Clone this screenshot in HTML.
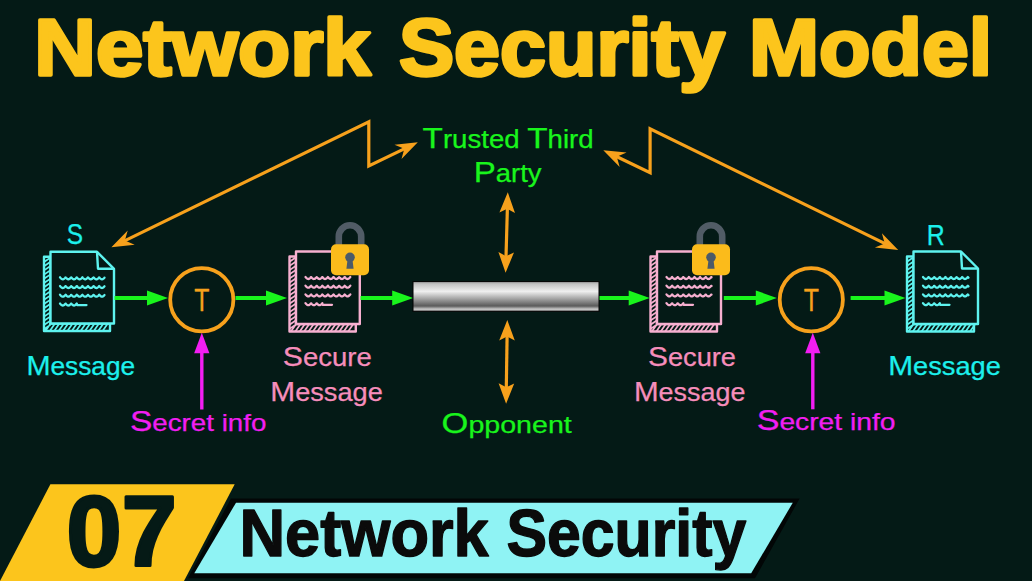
<!DOCTYPE html>
<html><head><meta charset="utf-8"><style>
html,body{margin:0;padding:0;background:#041a16;width:1032px;height:581px;overflow:hidden}
svg{display:block;font-family:"Liberation Sans", sans-serif}
</style></head><body>
<svg width="1032" height="581" viewBox="0 0 1032 581">
<rect width="1032" height="581" fill="#041a16"/>
<text x="34.29999999999999" y="75.3" font-size="79" fill="#fcc51c" font-weight="bold" text-anchor="start" textLength="336.49999999999994" lengthAdjust="spacingAndGlyphs" stroke="#fcc51c" stroke-width="3.4" stroke-linejoin="round">Network</text>
<text x="399.0" y="75.3" font-size="79" fill="#fcc51c" font-weight="bold" text-anchor="start" textLength="326.0" lengthAdjust="spacingAndGlyphs" stroke="#fcc51c" stroke-width="3.4" stroke-linejoin="round">Security</text>
<text x="749.0000000000001" y="75.3" font-size="79" fill="#fcc51c" font-weight="bold" text-anchor="start" textLength="243.0999999999999" lengthAdjust="spacingAndGlyphs" stroke="#fcc51c" stroke-width="3.4" stroke-linejoin="round">Model</text>
<path d="M124.0,241.1 L368.8,121.8 L368.8,166.0 L405.2,148.4" fill="none" stroke="#f7a11c" stroke-width="3.2" stroke-linejoin="miter" stroke-miterlimit="10"/>
<path d="M417.8,142.3 L401.5,159.1 L404.3,148.8 L394.5,144.7 Z" fill="#f7a11c"/>
<path d="M111.4,247.2 L127.7,230.4 L124.9,240.6 L134.7,244.8 Z" fill="#f7a11c"/>
<path d="M615.9,156.2 L650.1,172.6 L650.1,128.8 L885.6,243.9" fill="none" stroke="#f7a11c" stroke-width="3.2" stroke-linejoin="miter" stroke-miterlimit="10"/>
<path d="M898.2,250.0 L874.9,247.5 L884.7,243.4 L881.9,233.2 Z" fill="#f7a11c"/>
<path d="M603.3,150.2 L626.6,152.5 L616.8,156.7 L619.7,166.9 Z" fill="#f7a11c"/>
<path d="M507.4,207.8 L506.0,257.2" fill="none" stroke="#f7a11c" stroke-width="3.2" stroke-linejoin="miter" stroke-miterlimit="10"/>
<path d="M505.6,272.7 L498.4,252.0 L506.1,256.2 L514.0,252.4 Z" fill="#f7a11c"/>
<path d="M507.8,192.3 L515.0,213.0 L507.3,208.8 L499.4,212.6 Z" fill="#f7a11c"/>
<path d="M507.1,335.5 L506.3,388.3" fill="none" stroke="#f7a11c" stroke-width="3.2" stroke-linejoin="miter" stroke-miterlimit="10"/>
<path d="M506.1,403.8 L498.6,383.2 L506.3,387.3 L514.2,383.4 Z" fill="#f7a11c"/>
<path d="M507.3,320.0 L514.8,340.6 L507.1,336.5 L499.2,340.4 Z" fill="#f7a11c"/>
<path d="M50.5,256.8 L44.0,256.8 L44.0,331.0 L110,331.0 L110,323.5 L50.5,323.5 Z" fill="#041a16" stroke="#5ef3ef" stroke-width="2.4" stroke-linejoin="round"/>
<path d="M44.0,262.0 L50.5,257.6 M44.0,266.2 L50.5,261.8 M44.0,270.4 L50.5,266.0 M44.0,274.6 L50.5,270.2 M44.0,278.8 L50.5,274.4 M44.0,283.0 L50.5,278.6 M44.0,287.2 L50.5,282.8 M44.0,291.4 L50.5,287.0 M44.0,295.6 L50.5,291.2 M44.0,299.8 L50.5,295.4 M44.0,304.0 L50.5,299.6 M44.0,308.2 L50.5,303.8 M44.0,312.4 L50.5,308.0 M44.0,316.6 L50.5,312.2 M44.0,320.8 L50.5,316.4 M44.0,325.0 L50.5,320.6 M44.0,329.2 L50.5,324.8 M45.4,331.0 L50.6,323.5 M49.8,331.0 L55.0,323.5 M54.2,331.0 L59.4,323.5 M58.6,331.0 L63.8,323.5 M63.0,331.0 L68.2,323.5 M67.4,331.0 L72.6,323.5 M71.8,331.0 L77.0,323.5 M76.2,331.0 L81.4,323.5 M80.6,331.0 L85.8,323.5 M85.0,331.0 L90.2,323.5 M89.4,331.0 L94.6,323.5 M93.8,331.0 L99.0,323.5 M98.2,331.0 L103.4,323.5 M102.6,331.0 L107.8,323.5" stroke="#5ef3ef" stroke-width="1.7" fill="none"/>
<path d="M50.5,251.8 L97,251.8 L114,268.8 L114,323.5 L50.5,323.5 Z" fill="#041a16" stroke="#5ef3ef" stroke-width="2.4" stroke-linejoin="round"/>
<path d="M97,251.8 L98,268.8 L114,268.8" fill="none" stroke="#5ef3ef" stroke-width="2.4" stroke-linejoin="round"/>
<path d="M60.00,277.30 L60.33,277.67 L60.67,278.03 L61.00,278.37 L61.34,278.66 L61.67,278.91 L62.01,279.11 L62.34,279.23 L62.68,279.30 L63.01,279.29 L63.35,279.21 L63.68,279.06 L64.02,278.85 L64.35,278.59 L64.68,278.28 L65.02,277.94 L65.35,277.58 L65.69,277.40 L66.02,277.77 L66.36,278.12 L66.69,278.45 L67.03,278.73 L67.36,278.97 L67.70,279.15 L68.03,279.26 L68.36,279.30 L68.70,279.27 L69.03,279.17 L69.37,279.01 L69.70,278.79 L70.04,278.51 L70.37,278.20 L70.71,277.85 L71.04,277.48 L71.38,277.50 L71.71,277.87 L72.05,278.21 L72.38,278.53 L72.71,278.80 L73.05,279.02 L73.38,279.18 L73.72,279.28 L74.05,279.30 L74.39,279.25 L74.72,279.14 L75.06,278.96 L75.39,278.72 L75.73,278.43 L76.06,278.11 L76.39,277.75 L76.73,277.38 L77.06,277.60 L77.40,277.96 L77.73,278.30 L78.07,278.61 L78.40,278.87 L78.74,279.07 L79.07,279.21 L79.41,279.29 L79.74,279.29 L80.08,279.23 L80.41,279.10 L80.74,278.90 L81.08,278.65 L81.41,278.35 L81.75,278.02 L82.08,277.65 L82.42,277.32 L82.75,277.69 L83.09,278.05 L83.42,278.38 L83.76,278.68 L84.09,278.92 L84.42,279.11 L84.76,279.24 L85.09,279.30 L85.43,279.28 L85.76,279.20 L86.10,279.05 L86.43,278.84 L86.77,278.58 L87.10,278.27 L87.44,277.92 L87.77,277.56 L88.11,277.42 L88.44,277.79 L88.77,278.14 L89.11,278.47 L89.44,278.75 L89.78,278.98 L90.11,279.15 L90.45,279.26 L90.78,279.30 L91.12,279.27 L91.45,279.17 L91.79,279.00 L92.12,278.78 L92.45,278.50 L92.79,278.18 L93.12,277.83 L93.46,277.46 L93.79,277.52 L94.13,277.88 L94.46,278.23 L94.80,278.54 L95.13,278.81 L95.47,279.03 L95.80,279.19 L96.14,279.28 L96.47,279.30 L96.80,279.25 L97.14,279.13 L97.47,278.95 L97.81,278.71 L98.14,278.42 L98.48,278.09 L98.81,277.73 L99.15,277.36 L99.48,277.61 L99.82,277.98 L100.15,278.32 L100.48,278.62 L100.82,278.88 L101.15,279.08 L101.49,279.22 L101.82,279.29 L102.16,279.29 L102.49,279.22 L102.83,279.09 L103.16,278.89 L103.50,278.64 L103.83,278.33 L104.17,278.00 L104.50,277.64" fill="none" stroke="#5ef3ef" stroke-width="2.3" stroke-linecap="round" stroke-linejoin="round"/>
<path d="M60.00,286.00 L60.33,286.37 L60.67,286.73 L61.00,287.07 L61.34,287.36 L61.67,287.61 L62.01,287.81 L62.34,287.93 L62.68,288.00 L63.01,287.99 L63.35,287.91 L63.68,287.76 L64.02,287.55 L64.35,287.29 L64.68,286.98 L65.02,286.64 L65.35,286.28 L65.69,286.10 L66.02,286.47 L66.36,286.82 L66.69,287.15 L67.03,287.43 L67.36,287.67 L67.70,287.85 L68.03,287.96 L68.36,288.00 L68.70,287.97 L69.03,287.87 L69.37,287.71 L69.70,287.49 L70.04,287.21 L70.37,286.90 L70.71,286.55 L71.04,286.18 L71.38,286.20 L71.71,286.57 L72.05,286.91 L72.38,287.23 L72.71,287.50 L73.05,287.72 L73.38,287.88 L73.72,287.98 L74.05,288.00 L74.39,287.95 L74.72,287.84 L75.06,287.66 L75.39,287.42 L75.73,287.13 L76.06,286.81 L76.39,286.45 L76.73,286.08 L77.06,286.30 L77.40,286.66 L77.73,287.00 L78.07,287.31 L78.40,287.57 L78.74,287.77 L79.07,287.91 L79.41,287.99 L79.74,287.99 L80.08,287.93 L80.41,287.80 L80.74,287.60 L81.08,287.35 L81.41,287.05 L81.75,286.72 L82.08,286.35 L82.42,286.02 L82.75,286.39 L83.09,286.75 L83.42,287.08 L83.76,287.38 L84.09,287.62 L84.42,287.81 L84.76,287.94 L85.09,288.00 L85.43,287.98 L85.76,287.90 L86.10,287.75 L86.43,287.54 L86.77,287.28 L87.10,286.97 L87.44,286.62 L87.77,286.26 L88.11,286.12 L88.44,286.49 L88.77,286.84 L89.11,287.17 L89.44,287.45 L89.78,287.68 L90.11,287.85 L90.45,287.96 L90.78,288.00 L91.12,287.97 L91.45,287.87 L91.79,287.70 L92.12,287.48 L92.45,287.20 L92.79,286.88 L93.12,286.53 L93.46,286.16 L93.79,286.22 L94.13,286.58 L94.46,286.93 L94.80,287.24 L95.13,287.51 L95.47,287.73 L95.80,287.89 L96.14,287.98 L96.47,288.00 L96.80,287.95 L97.14,287.83 L97.47,287.65 L97.81,287.41 L98.14,287.12 L98.48,286.79 L98.81,286.43 L99.15,286.06 L99.48,286.31 L99.82,286.68 L100.15,287.02 L100.48,287.32 L100.82,287.58 L101.15,287.78 L101.49,287.92 L101.82,287.99 L102.16,287.99 L102.49,287.92 L102.83,287.79 L103.16,287.59 L103.50,287.34 L103.83,287.03 L104.17,286.70 L104.50,286.34" fill="none" stroke="#5ef3ef" stroke-width="2.3" stroke-linecap="round" stroke-linejoin="round"/>
<path d="M60.00,294.70 L60.33,295.07 L60.67,295.43 L61.00,295.77 L61.34,296.06 L61.67,296.31 L62.01,296.51 L62.34,296.63 L62.68,296.70 L63.01,296.69 L63.35,296.61 L63.68,296.46 L64.02,296.25 L64.35,295.99 L64.68,295.68 L65.02,295.34 L65.35,294.98 L65.69,294.80 L66.02,295.17 L66.36,295.52 L66.69,295.85 L67.03,296.13 L67.36,296.37 L67.70,296.55 L68.03,296.66 L68.36,296.70 L68.70,296.67 L69.03,296.57 L69.37,296.41 L69.70,296.19 L70.04,295.91 L70.37,295.60 L70.71,295.25 L71.04,294.88 L71.38,294.90 L71.71,295.27 L72.05,295.61 L72.38,295.93 L72.71,296.20 L73.05,296.42 L73.38,296.58 L73.72,296.68 L74.05,296.70 L74.39,296.65 L74.72,296.54 L75.06,296.36 L75.39,296.12 L75.73,295.83 L76.06,295.51 L76.39,295.15 L76.73,294.78 L77.06,295.00 L77.40,295.36 L77.73,295.70 L78.07,296.01 L78.40,296.27 L78.74,296.47 L79.07,296.61 L79.41,296.69 L79.74,296.69 L80.08,296.63 L80.41,296.50 L80.74,296.30 L81.08,296.05 L81.41,295.75 L81.75,295.42 L82.08,295.05 L82.42,294.72 L82.75,295.09 L83.09,295.45 L83.42,295.78 L83.76,296.08 L84.09,296.32 L84.42,296.51 L84.76,296.64 L85.09,296.70 L85.43,296.68 L85.76,296.60 L86.10,296.45 L86.43,296.24 L86.77,295.98 L87.10,295.67 L87.44,295.32 L87.77,294.96 L88.11,294.82 L88.44,295.19 L88.77,295.54 L89.11,295.87 L89.44,296.15 L89.78,296.38 L90.11,296.55 L90.45,296.66 L90.78,296.70 L91.12,296.67 L91.45,296.57 L91.79,296.40 L92.12,296.18 L92.45,295.90 L92.79,295.58 L93.12,295.23 L93.46,294.86 L93.79,294.92 L94.13,295.28 L94.46,295.63 L94.80,295.94 L95.13,296.21 L95.47,296.43 L95.80,296.59 L96.14,296.68 L96.47,296.70 L96.80,296.65 L97.14,296.53 L97.47,296.35 L97.81,296.11 L98.14,295.82 L98.48,295.49 L98.81,295.13 L99.15,294.76 L99.48,295.01 L99.82,295.38 L100.15,295.72 L100.48,296.02 L100.82,296.28 L101.15,296.48 L101.49,296.62 L101.82,296.69 L102.16,296.69 L102.49,296.62 L102.83,296.49 L103.16,296.29 L103.50,296.04 L103.83,295.73 L104.17,295.40 L104.50,295.04" fill="none" stroke="#5ef3ef" stroke-width="2.3" stroke-linecap="round" stroke-linejoin="round"/>
<path d="M60.00,303.50 L60.34,303.87 L60.67,304.24 L61.01,304.57 L61.34,304.87 L61.68,305.12 L62.01,305.31 L62.35,305.44 L62.68,305.50 L63.02,305.48 L63.35,305.40 L63.69,305.26 L64.03,305.05 L64.36,304.78 L64.70,304.47 L65.03,304.13 L65.37,303.76 L65.70,303.61 L66.04,303.99 L66.37,304.34 L66.71,304.67 L67.04,304.95 L67.38,305.18 L67.72,305.35 L68.05,305.46 L68.39,305.50 L68.72,305.47 L69.06,305.37 L69.39,305.20 L69.73,304.97 L70.06,304.69 L70.40,304.37 L70.73,304.02 L71.07,303.65 L71.41,303.73 L71.74,304.10 L72.08,304.44 L72.41,304.76 L72.75,305.03 L73.08,305.24 L73.42,305.39 L73.75,305.48 L74.09,305.50 L74.42,305.44 L74.76,305.32 L75.09,305.13 L75.43,304.89 L75.77,304.60 L76.10,304.26 L76.44,303.90 L76.77,303.53 L77.11,305.10 L77.44,305.10 L77.78,305.10 L78.11,305.10 L78.45,305.10 L78.78,305.10 L79.12,305.10 L79.46,305.10 L79.79,305.10 L80.13,305.10 L80.46,305.10 L80.80,305.10 L81.13,305.10 L81.47,305.10 L81.80,305.10 L82.14,305.10 L82.47,305.10 L82.81,305.10 L83.15,305.10 L83.48,305.10 L83.82,305.10 L84.15,305.10 L84.49,305.10 L84.82,305.10 L85.16,305.10 L85.49,305.10 L85.83,305.10 L86.16,305.10 L86.50,305.10" fill="none" stroke="#5ef3ef" stroke-width="2.3" stroke-linecap="round" stroke-linejoin="round"/>
<path d="M296,256.5 L289.5,256.5 L289.5,331.5 L355.8,331.5 L355.8,324 L296,324 Z" fill="#041a16" stroke="#f7b0d0" stroke-width="2.4" stroke-linejoin="round"/>
<path d="M289.5,261.7 L296.0,257.3 M289.5,265.9 L296.0,261.5 M289.5,270.1 L296.0,265.7 M289.5,274.3 L296.0,269.9 M289.5,278.5 L296.0,274.1 M289.5,282.7 L296.0,278.3 M289.5,286.9 L296.0,282.5 M289.5,291.1 L296.0,286.7 M289.5,295.3 L296.0,290.9 M289.5,299.5 L296.0,295.1 M289.5,303.7 L296.0,299.3 M289.5,307.9 L296.0,303.5 M289.5,312.1 L296.0,307.7 M289.5,316.3 L296.0,311.9 M289.5,320.5 L296.0,316.1 M289.5,324.7 L296.0,320.3 M289.5,328.9 L296.0,324.5 M290.9,331.5 L296.1,324.0 M295.3,331.5 L300.5,324.0 M299.7,331.5 L304.9,324.0 M304.1,331.5 L309.3,324.0 M308.5,331.5 L313.7,324.0 M312.9,331.5 L318.1,324.0 M317.3,331.5 L322.5,324.0 M321.7,331.5 L326.9,324.0 M326.1,331.5 L331.3,324.0 M330.5,331.5 L335.7,324.0 M334.9,331.5 L340.1,324.0 M339.3,331.5 L344.5,324.0 M343.7,331.5 L348.9,324.0 M348.1,331.5 L353.3,324.0" stroke="#f7b0d0" stroke-width="1.7" fill="none"/>
<path d="M296,251.5 L359.8,251.5 L359.8,324 L296,324 Z" fill="#041a16" stroke="#f7b0d0" stroke-width="2.4" stroke-linejoin="round"/>
<path d="M305.50,277.00 L305.83,277.37 L306.17,277.73 L306.50,278.07 L306.84,278.36 L307.17,278.61 L307.51,278.80 L307.84,278.93 L308.17,279.00 L308.51,278.99 L308.84,278.91 L309.18,278.76 L309.51,278.56 L309.85,278.29 L310.18,277.99 L310.51,277.64 L310.85,277.28 L311.18,277.09 L311.52,277.46 L311.85,277.82 L312.19,278.15 L312.52,278.43 L312.86,278.67 L313.19,278.84 L313.52,278.96 L313.86,279.00 L314.19,278.97 L314.53,278.88 L314.86,278.72 L315.20,278.49 L315.53,278.22 L315.86,277.90 L316.20,277.56 L316.53,277.19 L316.87,277.19 L317.20,277.56 L317.54,277.90 L317.87,278.22 L318.20,278.49 L318.54,278.72 L318.87,278.88 L319.21,278.97 L319.54,279.00 L319.88,278.96 L320.21,278.84 L320.54,278.67 L320.88,278.43 L321.21,278.15 L321.55,277.82 L321.88,277.46 L322.22,277.09 L322.55,277.28 L322.89,277.64 L323.22,277.99 L323.55,278.29 L323.89,278.56 L324.22,278.76 L324.56,278.91 L324.89,278.99 L325.23,279.00 L325.56,278.93 L325.89,278.80 L326.23,278.61 L326.56,278.36 L326.90,278.07 L327.23,277.73 L327.57,277.37 L327.90,277.00 L328.23,277.37 L328.57,277.73 L328.90,278.07 L329.24,278.36 L329.57,278.61 L329.91,278.80 L330.24,278.93 L330.57,279.00 L330.91,278.99 L331.24,278.91 L331.58,278.76 L331.91,278.56 L332.25,278.29 L332.58,277.99 L332.91,277.64 L333.25,277.28 L333.58,277.09 L333.92,277.46 L334.25,277.82 L334.59,278.15 L334.92,278.43 L335.26,278.67 L335.59,278.84 L335.92,278.96 L336.26,279.00 L336.59,278.97 L336.93,278.88 L337.26,278.72 L337.60,278.49 L337.93,278.22 L338.26,277.90 L338.60,277.56 L338.93,277.19 L339.27,277.19 L339.60,277.56 L339.94,277.90 L340.27,278.22 L340.60,278.49 L340.94,278.72 L341.27,278.88 L341.61,278.97 L341.94,279.00 L342.28,278.96 L342.61,278.84 L342.94,278.67 L343.28,278.43 L343.61,278.15 L343.95,277.82 L344.28,277.46 L344.62,277.09 L344.95,277.28 L345.29,277.64 L345.62,277.99 L345.95,278.29 L346.29,278.56 L346.62,278.76 L346.96,278.91 L347.29,278.99 L347.63,279.00 L347.96,278.93 L348.29,278.80 L348.63,278.61 L348.96,278.36 L349.30,278.07 L349.63,277.73 L349.97,277.37 L350.30,277.00" fill="none" stroke="#f7b0d0" stroke-width="2.3" stroke-linecap="round" stroke-linejoin="round"/>
<path d="M305.50,285.70 L305.83,286.07 L306.17,286.43 L306.50,286.77 L306.84,287.06 L307.17,287.31 L307.51,287.50 L307.84,287.63 L308.17,287.70 L308.51,287.69 L308.84,287.61 L309.18,287.46 L309.51,287.26 L309.85,286.99 L310.18,286.69 L310.51,286.34 L310.85,285.98 L311.18,285.79 L311.52,286.16 L311.85,286.52 L312.19,286.85 L312.52,287.13 L312.86,287.37 L313.19,287.54 L313.52,287.66 L313.86,287.70 L314.19,287.67 L314.53,287.58 L314.86,287.42 L315.20,287.19 L315.53,286.92 L315.86,286.60 L316.20,286.26 L316.53,285.89 L316.87,285.89 L317.20,286.26 L317.54,286.60 L317.87,286.92 L318.20,287.19 L318.54,287.42 L318.87,287.58 L319.21,287.67 L319.54,287.70 L319.88,287.66 L320.21,287.54 L320.54,287.37 L320.88,287.13 L321.21,286.85 L321.55,286.52 L321.88,286.16 L322.22,285.79 L322.55,285.98 L322.89,286.34 L323.22,286.69 L323.55,286.99 L323.89,287.26 L324.22,287.46 L324.56,287.61 L324.89,287.69 L325.23,287.70 L325.56,287.63 L325.89,287.50 L326.23,287.31 L326.56,287.06 L326.90,286.77 L327.23,286.43 L327.57,286.07 L327.90,285.70 L328.23,286.07 L328.57,286.43 L328.90,286.77 L329.24,287.06 L329.57,287.31 L329.91,287.50 L330.24,287.63 L330.57,287.70 L330.91,287.69 L331.24,287.61 L331.58,287.46 L331.91,287.26 L332.25,286.99 L332.58,286.69 L332.91,286.34 L333.25,285.98 L333.58,285.79 L333.92,286.16 L334.25,286.52 L334.59,286.85 L334.92,287.13 L335.26,287.37 L335.59,287.54 L335.92,287.66 L336.26,287.70 L336.59,287.67 L336.93,287.58 L337.26,287.42 L337.60,287.19 L337.93,286.92 L338.26,286.60 L338.60,286.26 L338.93,285.89 L339.27,285.89 L339.60,286.26 L339.94,286.60 L340.27,286.92 L340.60,287.19 L340.94,287.42 L341.27,287.58 L341.61,287.67 L341.94,287.70 L342.28,287.66 L342.61,287.54 L342.94,287.37 L343.28,287.13 L343.61,286.85 L343.95,286.52 L344.28,286.16 L344.62,285.79 L344.95,285.98 L345.29,286.34 L345.62,286.69 L345.95,286.99 L346.29,287.26 L346.62,287.46 L346.96,287.61 L347.29,287.69 L347.63,287.70 L347.96,287.63 L348.29,287.50 L348.63,287.31 L348.96,287.06 L349.30,286.77 L349.63,286.43 L349.97,286.07 L350.30,285.70" fill="none" stroke="#f7b0d0" stroke-width="2.3" stroke-linecap="round" stroke-linejoin="round"/>
<path d="M305.50,294.40 L305.83,294.77 L306.17,295.13 L306.50,295.47 L306.84,295.76 L307.17,296.01 L307.51,296.20 L307.84,296.33 L308.17,296.40 L308.51,296.39 L308.84,296.31 L309.18,296.16 L309.51,295.96 L309.85,295.69 L310.18,295.39 L310.51,295.04 L310.85,294.68 L311.18,294.49 L311.52,294.86 L311.85,295.22 L312.19,295.55 L312.52,295.83 L312.86,296.07 L313.19,296.24 L313.52,296.36 L313.86,296.40 L314.19,296.37 L314.53,296.28 L314.86,296.12 L315.20,295.89 L315.53,295.62 L315.86,295.30 L316.20,294.96 L316.53,294.59 L316.87,294.59 L317.20,294.96 L317.54,295.30 L317.87,295.62 L318.20,295.89 L318.54,296.12 L318.87,296.28 L319.21,296.37 L319.54,296.40 L319.88,296.36 L320.21,296.24 L320.54,296.07 L320.88,295.83 L321.21,295.55 L321.55,295.22 L321.88,294.86 L322.22,294.49 L322.55,294.68 L322.89,295.04 L323.22,295.39 L323.55,295.69 L323.89,295.96 L324.22,296.16 L324.56,296.31 L324.89,296.39 L325.23,296.40 L325.56,296.33 L325.89,296.20 L326.23,296.01 L326.56,295.76 L326.90,295.47 L327.23,295.13 L327.57,294.77 L327.90,294.40 L328.23,294.77 L328.57,295.13 L328.90,295.47 L329.24,295.76 L329.57,296.01 L329.91,296.20 L330.24,296.33 L330.57,296.40 L330.91,296.39 L331.24,296.31 L331.58,296.16 L331.91,295.96 L332.25,295.69 L332.58,295.39 L332.91,295.04 L333.25,294.68 L333.58,294.49 L333.92,294.86 L334.25,295.22 L334.59,295.55 L334.92,295.83 L335.26,296.07 L335.59,296.24 L335.92,296.36 L336.26,296.40 L336.59,296.37 L336.93,296.28 L337.26,296.12 L337.60,295.89 L337.93,295.62 L338.26,295.30 L338.60,294.96 L338.93,294.59 L339.27,294.59 L339.60,294.96 L339.94,295.30 L340.27,295.62 L340.60,295.89 L340.94,296.12 L341.27,296.28 L341.61,296.37 L341.94,296.40 L342.28,296.36 L342.61,296.24 L342.94,296.07 L343.28,295.83 L343.61,295.55 L343.95,295.22 L344.28,294.86 L344.62,294.49 L344.95,294.68 L345.29,295.04 L345.62,295.39 L345.95,295.69 L346.29,295.96 L346.62,296.16 L346.96,296.31 L347.29,296.39 L347.63,296.40 L347.96,296.33 L348.29,296.20 L348.63,296.01 L348.96,295.76 L349.30,295.47 L349.63,295.13 L349.97,294.77 L350.30,294.40" fill="none" stroke="#f7b0d0" stroke-width="2.3" stroke-linecap="round" stroke-linejoin="round"/>
<path d="M305.50,303.20 L305.84,303.57 L306.17,303.94 L306.51,304.27 L306.84,304.57 L307.18,304.82 L307.51,305.01 L307.85,305.14 L308.18,305.20 L308.52,305.18 L308.85,305.10 L309.19,304.96 L309.53,304.75 L309.86,304.48 L310.20,304.17 L310.53,303.83 L310.87,303.46 L311.20,303.31 L311.54,303.69 L311.87,304.04 L312.21,304.37 L312.54,304.65 L312.88,304.88 L313.22,305.05 L313.55,305.16 L313.89,305.20 L314.22,305.17 L314.56,305.07 L314.89,304.90 L315.23,304.67 L315.56,304.39 L315.90,304.07 L316.23,303.72 L316.57,303.35 L316.91,303.43 L317.24,303.80 L317.58,304.14 L317.91,304.46 L318.25,304.73 L318.58,304.94 L318.92,305.09 L319.25,305.18 L319.59,305.20 L319.92,305.14 L320.26,305.02 L320.59,304.83 L320.93,304.59 L321.27,304.30 L321.60,303.96 L321.94,303.60 L322.27,303.23 L322.61,304.80 L322.94,304.80 L323.28,304.80 L323.61,304.80 L323.95,304.80 L324.28,304.80 L324.62,304.80 L324.96,304.80 L325.29,304.80 L325.63,304.80 L325.96,304.80 L326.30,304.80 L326.63,304.80 L326.97,304.80 L327.30,304.80 L327.64,304.80 L327.97,304.80 L328.31,304.80 L328.65,304.80 L328.98,304.80 L329.32,304.80 L329.65,304.80 L329.99,304.80 L330.32,304.80 L330.66,304.80 L330.99,304.80 L331.33,304.80 L331.66,304.80 L332.00,304.80" fill="none" stroke="#f7b0d0" stroke-width="2.3" stroke-linecap="round" stroke-linejoin="round"/>
<path d="M657,256.5 L650.5,256.5 L650.5,331.5 L717,331.5 L717,324 L657,324 Z" fill="#041a16" stroke="#f7b0d0" stroke-width="2.4" stroke-linejoin="round"/>
<path d="M650.5,261.7 L657.0,257.3 M650.5,265.9 L657.0,261.5 M650.5,270.1 L657.0,265.7 M650.5,274.3 L657.0,269.9 M650.5,278.5 L657.0,274.1 M650.5,282.7 L657.0,278.3 M650.5,286.9 L657.0,282.5 M650.5,291.1 L657.0,286.7 M650.5,295.3 L657.0,290.9 M650.5,299.5 L657.0,295.1 M650.5,303.7 L657.0,299.3 M650.5,307.9 L657.0,303.5 M650.5,312.1 L657.0,307.7 M650.5,316.3 L657.0,311.9 M650.5,320.5 L657.0,316.1 M650.5,324.7 L657.0,320.3 M650.5,328.9 L657.0,324.5 M651.9,331.5 L657.1,324.0 M656.3,331.5 L661.5,324.0 M660.7,331.5 L665.9,324.0 M665.1,331.5 L670.3,324.0 M669.5,331.5 L674.7,324.0 M673.9,331.5 L679.1,324.0 M678.3,331.5 L683.5,324.0 M682.7,331.5 L687.9,324.0 M687.1,331.5 L692.3,324.0 M691.5,331.5 L696.7,324.0 M695.9,331.5 L701.1,324.0 M700.3,331.5 L705.5,324.0 M704.7,331.5 L709.9,324.0 M709.1,331.5 L714.3,324.0" stroke="#f7b0d0" stroke-width="1.7" fill="none"/>
<path d="M657,251.5 L721,251.5 L721,324 L657,324 Z" fill="#041a16" stroke="#f7b0d0" stroke-width="2.4" stroke-linejoin="round"/>
<path d="M666.50,277.00 L666.83,277.37 L667.17,277.73 L667.50,278.06 L667.83,278.36 L668.17,278.61 L668.50,278.80 L668.83,278.93 L669.17,278.99 L669.50,278.99 L669.83,278.91 L670.17,278.77 L670.50,278.56 L670.83,278.30 L671.17,278.00 L671.50,277.66 L671.83,277.30 L672.17,277.07 L672.50,277.45 L672.83,277.80 L673.17,278.13 L673.50,278.41 L673.83,278.65 L674.17,278.83 L674.50,278.95 L674.83,279.00 L675.17,278.98 L675.50,278.89 L675.83,278.73 L676.17,278.52 L676.50,278.25 L676.83,277.93 L677.17,277.59 L677.50,277.22 L677.83,277.15 L678.17,277.52 L678.50,277.87 L678.83,278.19 L679.17,278.47 L679.50,278.69 L679.83,278.86 L680.17,278.97 L680.50,279.00 L680.83,278.97 L681.17,278.86 L681.50,278.69 L681.83,278.47 L682.17,278.19 L682.50,277.87 L682.83,277.52 L683.17,277.15 L683.50,277.22 L683.83,277.59 L684.17,277.93 L684.50,278.25 L684.83,278.52 L685.17,278.73 L685.50,278.89 L685.83,278.98 L686.17,279.00 L686.50,278.95 L686.83,278.83 L687.17,278.65 L687.50,278.41 L687.83,278.13 L688.17,277.80 L688.50,277.45 L688.83,277.07 L689.17,277.30 L689.50,277.66 L689.83,278.00 L690.17,278.30 L690.50,278.56 L690.83,278.77 L691.17,278.91 L691.50,278.99 L691.83,278.99 L692.17,278.93 L692.50,278.80 L692.83,278.61 L693.17,278.36 L693.50,278.06 L693.83,277.73 L694.17,277.37 L694.50,277.00 L694.83,277.37 L695.17,277.73 L695.50,278.06 L695.83,278.36 L696.17,278.61 L696.50,278.80 L696.83,278.93 L697.17,278.99 L697.50,278.99 L697.83,278.91 L698.17,278.77 L698.50,278.56 L698.83,278.30 L699.17,278.00 L699.50,277.66 L699.83,277.30 L700.17,277.07 L700.50,277.45 L700.83,277.80 L701.17,278.13 L701.50,278.41 L701.83,278.65 L702.17,278.83 L702.50,278.95 L702.83,279.00 L703.17,278.98 L703.50,278.89 L703.83,278.73 L704.17,278.52 L704.50,278.25 L704.83,277.93 L705.17,277.59 L705.50,277.22 L705.83,277.15 L706.17,277.52 L706.50,277.87 L706.83,278.19 L707.17,278.47 L707.50,278.69 L707.83,278.86 L708.17,278.97 L708.50,279.00 L708.83,278.97 L709.17,278.86 L709.50,278.69 L709.83,278.47 L710.17,278.19 L710.50,277.87 L710.83,277.52 L711.17,277.15 L711.50,277.22" fill="none" stroke="#f7b0d0" stroke-width="2.3" stroke-linecap="round" stroke-linejoin="round"/>
<path d="M666.50,285.70 L666.83,286.07 L667.17,286.43 L667.50,286.76 L667.83,287.06 L668.17,287.31 L668.50,287.50 L668.83,287.63 L669.17,287.69 L669.50,287.69 L669.83,287.61 L670.17,287.47 L670.50,287.26 L670.83,287.00 L671.17,286.70 L671.50,286.36 L671.83,286.00 L672.17,285.77 L672.50,286.15 L672.83,286.50 L673.17,286.83 L673.50,287.11 L673.83,287.35 L674.17,287.53 L674.50,287.65 L674.83,287.70 L675.17,287.68 L675.50,287.59 L675.83,287.43 L676.17,287.22 L676.50,286.95 L676.83,286.63 L677.17,286.29 L677.50,285.92 L677.83,285.85 L678.17,286.22 L678.50,286.57 L678.83,286.89 L679.17,287.17 L679.50,287.39 L679.83,287.56 L680.17,287.67 L680.50,287.70 L680.83,287.67 L681.17,287.56 L681.50,287.39 L681.83,287.17 L682.17,286.89 L682.50,286.57 L682.83,286.22 L683.17,285.85 L683.50,285.92 L683.83,286.29 L684.17,286.63 L684.50,286.95 L684.83,287.22 L685.17,287.43 L685.50,287.59 L685.83,287.68 L686.17,287.70 L686.50,287.65 L686.83,287.53 L687.17,287.35 L687.50,287.11 L687.83,286.83 L688.17,286.50 L688.50,286.15 L688.83,285.77 L689.17,286.00 L689.50,286.36 L689.83,286.70 L690.17,287.00 L690.50,287.26 L690.83,287.47 L691.17,287.61 L691.50,287.69 L691.83,287.69 L692.17,287.63 L692.50,287.50 L692.83,287.31 L693.17,287.06 L693.50,286.76 L693.83,286.43 L694.17,286.07 L694.50,285.70 L694.83,286.07 L695.17,286.43 L695.50,286.76 L695.83,287.06 L696.17,287.31 L696.50,287.50 L696.83,287.63 L697.17,287.69 L697.50,287.69 L697.83,287.61 L698.17,287.47 L698.50,287.26 L698.83,287.00 L699.17,286.70 L699.50,286.36 L699.83,286.00 L700.17,285.77 L700.50,286.15 L700.83,286.50 L701.17,286.83 L701.50,287.11 L701.83,287.35 L702.17,287.53 L702.50,287.65 L702.83,287.70 L703.17,287.68 L703.50,287.59 L703.83,287.43 L704.17,287.22 L704.50,286.95 L704.83,286.63 L705.17,286.29 L705.50,285.92 L705.83,285.85 L706.17,286.22 L706.50,286.57 L706.83,286.89 L707.17,287.17 L707.50,287.39 L707.83,287.56 L708.17,287.67 L708.50,287.70 L708.83,287.67 L709.17,287.56 L709.50,287.39 L709.83,287.17 L710.17,286.89 L710.50,286.57 L710.83,286.22 L711.17,285.85 L711.50,285.92" fill="none" stroke="#f7b0d0" stroke-width="2.3" stroke-linecap="round" stroke-linejoin="round"/>
<path d="M666.50,294.40 L666.83,294.77 L667.17,295.13 L667.50,295.46 L667.83,295.76 L668.17,296.01 L668.50,296.20 L668.83,296.33 L669.17,296.39 L669.50,296.39 L669.83,296.31 L670.17,296.17 L670.50,295.96 L670.83,295.70 L671.17,295.40 L671.50,295.06 L671.83,294.70 L672.17,294.47 L672.50,294.85 L672.83,295.20 L673.17,295.53 L673.50,295.81 L673.83,296.05 L674.17,296.23 L674.50,296.35 L674.83,296.40 L675.17,296.38 L675.50,296.29 L675.83,296.13 L676.17,295.92 L676.50,295.65 L676.83,295.33 L677.17,294.99 L677.50,294.62 L677.83,294.55 L678.17,294.92 L678.50,295.27 L678.83,295.59 L679.17,295.87 L679.50,296.09 L679.83,296.26 L680.17,296.37 L680.50,296.40 L680.83,296.37 L681.17,296.26 L681.50,296.09 L681.83,295.87 L682.17,295.59 L682.50,295.27 L682.83,294.92 L683.17,294.55 L683.50,294.62 L683.83,294.99 L684.17,295.33 L684.50,295.65 L684.83,295.92 L685.17,296.13 L685.50,296.29 L685.83,296.38 L686.17,296.40 L686.50,296.35 L686.83,296.23 L687.17,296.05 L687.50,295.81 L687.83,295.53 L688.17,295.20 L688.50,294.85 L688.83,294.47 L689.17,294.70 L689.50,295.06 L689.83,295.40 L690.17,295.70 L690.50,295.96 L690.83,296.17 L691.17,296.31 L691.50,296.39 L691.83,296.39 L692.17,296.33 L692.50,296.20 L692.83,296.01 L693.17,295.76 L693.50,295.46 L693.83,295.13 L694.17,294.77 L694.50,294.40 L694.83,294.77 L695.17,295.13 L695.50,295.46 L695.83,295.76 L696.17,296.01 L696.50,296.20 L696.83,296.33 L697.17,296.39 L697.50,296.39 L697.83,296.31 L698.17,296.17 L698.50,295.96 L698.83,295.70 L699.17,295.40 L699.50,295.06 L699.83,294.70 L700.17,294.47 L700.50,294.85 L700.83,295.20 L701.17,295.53 L701.50,295.81 L701.83,296.05 L702.17,296.23 L702.50,296.35 L702.83,296.40 L703.17,296.38 L703.50,296.29 L703.83,296.13 L704.17,295.92 L704.50,295.65 L704.83,295.33 L705.17,294.99 L705.50,294.62 L705.83,294.55 L706.17,294.92 L706.50,295.27 L706.83,295.59 L707.17,295.87 L707.50,296.09 L707.83,296.26 L708.17,296.37 L708.50,296.40 L708.83,296.37 L709.17,296.26 L709.50,296.09 L709.83,295.87 L710.17,295.59 L710.50,295.27 L710.83,294.92 L711.17,294.55 L711.50,294.62" fill="none" stroke="#f7b0d0" stroke-width="2.3" stroke-linecap="round" stroke-linejoin="round"/>
<path d="M666.50,303.20 L666.84,303.57 L667.17,303.94 L667.51,304.27 L667.84,304.57 L668.18,304.82 L668.51,305.01 L668.85,305.14 L669.18,305.20 L669.52,305.18 L669.85,305.10 L670.19,304.96 L670.53,304.75 L670.86,304.48 L671.20,304.17 L671.53,303.83 L671.87,303.46 L672.20,303.31 L672.54,303.69 L672.87,304.04 L673.21,304.37 L673.54,304.65 L673.88,304.88 L674.22,305.05 L674.55,305.16 L674.89,305.20 L675.22,305.17 L675.56,305.07 L675.89,304.90 L676.23,304.67 L676.56,304.39 L676.90,304.07 L677.23,303.72 L677.57,303.35 L677.91,303.43 L678.24,303.80 L678.58,304.14 L678.91,304.46 L679.25,304.73 L679.58,304.94 L679.92,305.09 L680.25,305.18 L680.59,305.20 L680.92,305.14 L681.26,305.02 L681.59,304.83 L681.93,304.59 L682.27,304.30 L682.60,303.96 L682.94,303.60 L683.27,303.23 L683.61,304.80 L683.94,304.80 L684.28,304.80 L684.61,304.80 L684.95,304.80 L685.28,304.80 L685.62,304.80 L685.96,304.80 L686.29,304.80 L686.63,304.80 L686.96,304.80 L687.30,304.80 L687.63,304.80 L687.97,304.80 L688.30,304.80 L688.64,304.80 L688.97,304.80 L689.31,304.80 L689.65,304.80 L689.98,304.80 L690.32,304.80 L690.65,304.80 L690.99,304.80 L691.32,304.80 L691.66,304.80 L691.99,304.80 L692.33,304.80 L692.66,304.80 L693.00,304.80" fill="none" stroke="#f7b0d0" stroke-width="2.3" stroke-linecap="round" stroke-linejoin="round"/>
<path d="M913.5,256.5 L907.0,256.5 L907.0,331.5 L974,331.5 L974,324 L913.5,324 Z" fill="#041a16" stroke="#5ef3ef" stroke-width="2.4" stroke-linejoin="round"/>
<path d="M907.0,261.7 L913.5,257.3 M907.0,265.9 L913.5,261.5 M907.0,270.1 L913.5,265.7 M907.0,274.3 L913.5,269.9 M907.0,278.5 L913.5,274.1 M907.0,282.7 L913.5,278.3 M907.0,286.9 L913.5,282.5 M907.0,291.1 L913.5,286.7 M907.0,295.3 L913.5,290.9 M907.0,299.5 L913.5,295.1 M907.0,303.7 L913.5,299.3 M907.0,307.9 L913.5,303.5 M907.0,312.1 L913.5,307.7 M907.0,316.3 L913.5,311.9 M907.0,320.5 L913.5,316.1 M907.0,324.7 L913.5,320.3 M907.0,328.9 L913.5,324.5 M908.4,331.5 L913.6,324.0 M912.8,331.5 L918.0,324.0 M917.2,331.5 L922.4,324.0 M921.6,331.5 L926.8,324.0 M926.0,331.5 L931.2,324.0 M930.4,331.5 L935.6,324.0 M934.8,331.5 L940.0,324.0 M939.2,331.5 L944.4,324.0 M943.6,331.5 L948.8,324.0 M948.0,331.5 L953.2,324.0 M952.4,331.5 L957.6,324.0 M956.8,331.5 L962.0,324.0 M961.2,331.5 L966.4,324.0 M965.6,331.5 L970.8,324.0 M970.0,331.5 L975.2,324.0" stroke="#5ef3ef" stroke-width="1.7" fill="none"/>
<path d="M913.5,251.5 L961,251.5 L978,268.5 L978,324 L913.5,324 Z" fill="#041a16" stroke="#5ef3ef" stroke-width="2.4" stroke-linejoin="round"/>
<path d="M961,251.5 L962,268.5 L978,268.5" fill="none" stroke="#5ef3ef" stroke-width="2.4" stroke-linejoin="round"/>
<path d="M923.00,277.00 L923.33,277.37 L923.67,277.73 L924.00,278.07 L924.34,278.36 L924.67,278.61 L925.01,278.81 L925.34,278.93 L925.68,279.00 L926.01,278.99 L926.35,278.91 L926.68,278.76 L927.01,278.55 L927.35,278.29 L927.68,277.98 L928.02,277.64 L928.35,277.28 L928.69,277.10 L929.02,277.47 L929.36,277.82 L929.69,278.15 L930.03,278.43 L930.36,278.67 L930.69,278.85 L931.03,278.96 L931.36,279.00 L931.70,278.97 L932.03,278.88 L932.37,278.71 L932.70,278.49 L933.04,278.21 L933.37,277.90 L933.71,277.55 L934.04,277.18 L934.38,277.20 L934.71,277.56 L935.04,277.91 L935.38,278.23 L935.71,278.50 L936.05,278.72 L936.38,278.88 L936.72,278.97 L937.05,279.00 L937.39,278.95 L937.72,278.84 L938.06,278.66 L938.39,278.42 L938.72,278.14 L939.06,277.81 L939.39,277.45 L939.73,277.08 L940.06,277.29 L940.40,277.66 L940.73,278.00 L941.07,278.30 L941.40,278.56 L941.74,278.77 L942.07,278.91 L942.40,278.99 L942.74,278.99 L943.07,278.93 L943.41,278.80 L943.74,278.60 L944.08,278.35 L944.41,278.05 L944.75,277.72 L945.08,277.36 L945.42,277.02 L945.75,277.39 L946.08,277.75 L946.42,278.08 L946.75,278.38 L947.09,278.62 L947.42,278.81 L947.76,278.94 L948.09,279.00 L948.43,278.98 L948.76,278.90 L949.10,278.75 L949.43,278.54 L949.76,278.28 L950.10,277.97 L950.43,277.62 L950.77,277.26 L951.10,277.12 L951.44,277.49 L951.77,277.84 L952.11,278.16 L952.44,278.45 L952.78,278.68 L953.11,278.85 L953.44,278.96 L953.78,279.00 L954.11,278.97 L954.45,278.87 L954.78,278.70 L955.12,278.48 L955.45,278.20 L955.79,277.88 L956.12,277.53 L956.46,277.16 L956.79,277.21 L957.12,277.58 L957.46,277.93 L957.79,278.24 L958.13,278.51 L958.46,278.73 L958.80,278.89 L959.13,278.98 L959.47,279.00 L959.80,278.95 L960.14,278.83 L960.47,278.65 L960.81,278.41 L961.14,278.12 L961.47,277.79 L961.81,277.44 L962.14,277.06 L962.48,277.31 L962.81,277.67 L963.15,278.01 L963.48,278.32 L963.82,278.57 L964.15,278.78 L964.49,278.92 L964.82,278.99 L965.15,278.99 L965.49,278.93 L965.82,278.79 L966.16,278.59 L966.49,278.34 L966.83,278.04 L967.16,277.70 L967.50,277.34 L967.83,277.03 L968.17,277.41 L968.50,277.77" fill="none" stroke="#5ef3ef" stroke-width="2.3" stroke-linecap="round" stroke-linejoin="round"/>
<path d="M923.00,285.70 L923.33,286.07 L923.67,286.43 L924.00,286.77 L924.34,287.06 L924.67,287.31 L925.01,287.51 L925.34,287.63 L925.68,287.70 L926.01,287.69 L926.35,287.61 L926.68,287.46 L927.01,287.25 L927.35,286.99 L927.68,286.68 L928.02,286.34 L928.35,285.98 L928.69,285.80 L929.02,286.17 L929.36,286.52 L929.69,286.85 L930.03,287.13 L930.36,287.37 L930.69,287.55 L931.03,287.66 L931.36,287.70 L931.70,287.67 L932.03,287.58 L932.37,287.41 L932.70,287.19 L933.04,286.91 L933.37,286.60 L933.71,286.25 L934.04,285.88 L934.38,285.90 L934.71,286.26 L935.04,286.61 L935.38,286.93 L935.71,287.20 L936.05,287.42 L936.38,287.58 L936.72,287.67 L937.05,287.70 L937.39,287.65 L937.72,287.54 L938.06,287.36 L938.39,287.12 L938.72,286.84 L939.06,286.51 L939.39,286.15 L939.73,285.78 L940.06,285.99 L940.40,286.36 L940.73,286.70 L941.07,287.00 L941.40,287.26 L941.74,287.47 L942.07,287.61 L942.40,287.69 L942.74,287.69 L943.07,287.63 L943.41,287.50 L943.74,287.30 L944.08,287.05 L944.41,286.75 L944.75,286.42 L945.08,286.06 L945.42,285.72 L945.75,286.09 L946.08,286.45 L946.42,286.78 L946.75,287.08 L947.09,287.32 L947.42,287.51 L947.76,287.64 L948.09,287.70 L948.43,287.68 L948.76,287.60 L949.10,287.45 L949.43,287.24 L949.76,286.98 L950.10,286.67 L950.43,286.32 L950.77,285.96 L951.10,285.82 L951.44,286.19 L951.77,286.54 L952.11,286.86 L952.44,287.15 L952.78,287.38 L953.11,287.55 L953.44,287.66 L953.78,287.70 L954.11,287.67 L954.45,287.57 L954.78,287.40 L955.12,287.18 L955.45,286.90 L955.79,286.58 L956.12,286.23 L956.46,285.86 L956.79,285.91 L957.12,286.28 L957.46,286.63 L957.79,286.94 L958.13,287.21 L958.46,287.43 L958.80,287.59 L959.13,287.68 L959.47,287.70 L959.80,287.65 L960.14,287.53 L960.47,287.35 L960.81,287.11 L961.14,286.82 L961.47,286.49 L961.81,286.14 L962.14,285.76 L962.48,286.01 L962.81,286.37 L963.15,286.71 L963.48,287.02 L963.82,287.27 L964.15,287.48 L964.49,287.62 L964.82,287.69 L965.15,287.69 L965.49,287.63 L965.82,287.49 L966.16,287.29 L966.49,287.04 L966.83,286.74 L967.16,286.40 L967.50,286.04 L967.83,285.73 L968.17,286.11 L968.50,286.47" fill="none" stroke="#5ef3ef" stroke-width="2.3" stroke-linecap="round" stroke-linejoin="round"/>
<path d="M923.00,294.40 L923.33,294.77 L923.67,295.13 L924.00,295.47 L924.34,295.76 L924.67,296.01 L925.01,296.21 L925.34,296.33 L925.68,296.40 L926.01,296.39 L926.35,296.31 L926.68,296.16 L927.01,295.95 L927.35,295.69 L927.68,295.38 L928.02,295.04 L928.35,294.68 L928.69,294.50 L929.02,294.87 L929.36,295.22 L929.69,295.55 L930.03,295.83 L930.36,296.07 L930.69,296.25 L931.03,296.36 L931.36,296.40 L931.70,296.37 L932.03,296.28 L932.37,296.11 L932.70,295.89 L933.04,295.61 L933.37,295.30 L933.71,294.95 L934.04,294.58 L934.38,294.60 L934.71,294.96 L935.04,295.31 L935.38,295.63 L935.71,295.90 L936.05,296.12 L936.38,296.28 L936.72,296.37 L937.05,296.40 L937.39,296.35 L937.72,296.24 L938.06,296.06 L938.39,295.82 L938.72,295.54 L939.06,295.21 L939.39,294.85 L939.73,294.48 L940.06,294.69 L940.40,295.06 L940.73,295.40 L941.07,295.70 L941.40,295.96 L941.74,296.17 L942.07,296.31 L942.40,296.39 L942.74,296.39 L943.07,296.33 L943.41,296.20 L943.74,296.00 L944.08,295.75 L944.41,295.45 L944.75,295.12 L945.08,294.76 L945.42,294.42 L945.75,294.79 L946.08,295.15 L946.42,295.48 L946.75,295.78 L947.09,296.02 L947.42,296.21 L947.76,296.34 L948.09,296.40 L948.43,296.38 L948.76,296.30 L949.10,296.15 L949.43,295.94 L949.76,295.68 L950.10,295.37 L950.43,295.02 L950.77,294.66 L951.10,294.52 L951.44,294.89 L951.77,295.24 L952.11,295.56 L952.44,295.85 L952.78,296.08 L953.11,296.25 L953.44,296.36 L953.78,296.40 L954.11,296.37 L954.45,296.27 L954.78,296.10 L955.12,295.88 L955.45,295.60 L955.79,295.28 L956.12,294.93 L956.46,294.56 L956.79,294.61 L957.12,294.98 L957.46,295.33 L957.79,295.64 L958.13,295.91 L958.46,296.13 L958.80,296.29 L959.13,296.38 L959.47,296.40 L959.80,296.35 L960.14,296.23 L960.47,296.05 L960.81,295.81 L961.14,295.52 L961.47,295.19 L961.81,294.84 L962.14,294.46 L962.48,294.71 L962.81,295.07 L963.15,295.41 L963.48,295.72 L963.82,295.97 L964.15,296.18 L964.49,296.32 L964.82,296.39 L965.15,296.39 L965.49,296.33 L965.82,296.19 L966.16,295.99 L966.49,295.74 L966.83,295.44 L967.16,295.10 L967.50,294.74 L967.83,294.43 L968.17,294.81 L968.50,295.17" fill="none" stroke="#5ef3ef" stroke-width="2.3" stroke-linecap="round" stroke-linejoin="round"/>
<path d="M923.00,303.20 L923.34,303.57 L923.67,303.94 L924.01,304.27 L924.34,304.57 L924.68,304.82 L925.01,305.01 L925.35,305.14 L925.68,305.20 L926.02,305.18 L926.35,305.10 L926.69,304.96 L927.03,304.75 L927.36,304.48 L927.70,304.17 L928.03,303.83 L928.37,303.46 L928.70,303.31 L929.04,303.69 L929.37,304.04 L929.71,304.37 L930.04,304.65 L930.38,304.88 L930.72,305.05 L931.05,305.16 L931.39,305.20 L931.72,305.17 L932.06,305.07 L932.39,304.90 L932.73,304.67 L933.06,304.39 L933.40,304.07 L933.73,303.72 L934.07,303.35 L934.41,303.43 L934.74,303.80 L935.08,304.14 L935.41,304.46 L935.75,304.73 L936.08,304.94 L936.42,305.09 L936.75,305.18 L937.09,305.20 L937.42,305.14 L937.76,305.02 L938.09,304.83 L938.43,304.59 L938.77,304.30 L939.10,303.96 L939.44,303.60 L939.77,303.23 L940.11,304.80 L940.44,304.80 L940.78,304.80 L941.11,304.80 L941.45,304.80 L941.78,304.80 L942.12,304.80 L942.46,304.80 L942.79,304.80 L943.13,304.80 L943.46,304.80 L943.80,304.80 L944.13,304.80 L944.47,304.80 L944.80,304.80 L945.14,304.80 L945.47,304.80 L945.81,304.80 L946.15,304.80 L946.48,304.80 L946.82,304.80 L947.15,304.80 L947.49,304.80 L947.82,304.80 L948.16,304.80 L948.49,304.80 L948.83,304.80 L949.16,304.80 L949.50,304.80" fill="none" stroke="#5ef3ef" stroke-width="2.3" stroke-linecap="round" stroke-linejoin="round"/>
<path d="M338.8,248.3 L338.8,236.5 A11.2,11.2 0 0 1 361.2,236.5 L361.2,248.3" fill="none" stroke="#515c66" stroke-width="6.6"/>
<rect x="331" y="244.3" width="38" height="31" rx="5" fill="#fbbb1b"/>
<circle cx="350" cy="257.3" r="4.8" fill="#4b5a69"/>
<path d="M347.6,259.3 L352.4,259.3 L353.6,268.8 L346.4,268.8 Z" fill="#4b5a69"/>
<path d="M699.8,248.3 L699.8,236.5 A11.2,11.2 0 0 1 722.2,236.5 L722.2,248.3" fill="none" stroke="#515c66" stroke-width="6.6"/>
<rect x="692" y="244.3" width="38" height="31" rx="5" fill="#fbbb1b"/>
<circle cx="711" cy="257.3" r="4.8" fill="#4b5a69"/>
<path d="M708.6,259.3 L713.4,259.3 L714.6,268.8 L707.4,268.8 Z" fill="#4b5a69"/>
<circle cx="201.8" cy="299.7" r="31.6" fill="none" stroke="#f7a11c" stroke-width="3.8"/>
<text x="194.20000000000002" y="310.6" font-size="31.7" fill="#f7a11c" font-weight="normal" text-anchor="start" textLength="15.2" lengthAdjust="spacingAndGlyphs" stroke="#f7a11c" stroke-width="0.3" stroke-linejoin="round">T</text>
<circle cx="811.3" cy="299.7" r="31.6" fill="none" stroke="#f7a11c" stroke-width="3.8"/>
<text x="803.6999999999999" y="310.6" font-size="31.7" fill="#f7a11c" font-weight="normal" text-anchor="start" textLength="15.2" lengthAdjust="spacingAndGlyphs" stroke="#f7a11c" stroke-width="0.3" stroke-linejoin="round">T</text>
<line x1="114.5" y1="298" x2="149" y2="298" stroke="#19f51c" stroke-width="4.2"/><path d="M168,298 L147,290.4 L147,305.6 Z" fill="#19f51c"/>
<line x1="235.5" y1="298" x2="268" y2="298" stroke="#19f51c" stroke-width="4.2"/><path d="M287,298 L266,290.4 L266,305.6 Z" fill="#19f51c"/>
<line x1="360.5" y1="298" x2="394.2" y2="298" stroke="#19f51c" stroke-width="4.2"/><path d="M413.2,298 L392.2,290.4 L392.2,305.6 Z" fill="#19f51c"/>
<line x1="598.5" y1="298" x2="630.7" y2="298" stroke="#19f51c" stroke-width="4.2"/><path d="M649.7,298 L628.7,290.4 L628.7,305.6 Z" fill="#19f51c"/>
<line x1="723.8" y1="298" x2="757.8" y2="298" stroke="#19f51c" stroke-width="4.2"/><path d="M776.8,298 L755.8,290.4 L755.8,305.6 Z" fill="#19f51c"/>
<line x1="850.6" y1="298" x2="886.5" y2="298" stroke="#19f51c" stroke-width="4.2"/><path d="M905.5,298 L884.5,290.4 L884.5,305.6 Z" fill="#19f51c"/>
<defs><linearGradient id="pipe" x1="0" y1="0" x2="0" y2="1">
<stop offset="0" stop-color="#a4a4a4"/>
<stop offset="0.1" stop-color="#c6c6c6"/>
<stop offset="0.33" stop-color="#efefef"/>
<stop offset="0.56" stop-color="#a9a9a9"/>
<stop offset="0.82" stop-color="#5a5a5a"/>
<stop offset="0.93" stop-color="#cacaca"/>
<stop offset="1" stop-color="#8c8c8c"/>
</linearGradient></defs>
<rect x="413" y="281.6" width="186" height="29.7" fill="url(#pipe)" stroke="#000" stroke-width="1"/>
<line x1="201.8" y1="350.8" x2="201.8" y2="409.5" stroke="#f21ef2" stroke-width="3.4"/><path d="M201.8,332.8 L194.20000000000002,353.3 L209.4,353.3 Z" fill="#f21ef2"/>
<line x1="812.8" y1="350.8" x2="812.8" y2="409.3" stroke="#f21ef2" stroke-width="3.4"/><path d="M812.8,332.8 L805.1999999999999,353.3 L820.4,353.3 Z" fill="#f21ef2"/>
<text x="26.4" y="374.6" fill="#1cf0ec" stroke="#1cf0ec" stroke-width="0.25" textLength="108.8" lengthAdjust="spacingAndGlyphs"><tspan font-size="27.6">M</tspan><tspan font-size="25.12">e</tspan><tspan font-size="25.12">s</tspan><tspan font-size="25.12">s</tspan><tspan font-size="25.12">a</tspan><tspan font-size="25.12">g</tspan><tspan font-size="25.12">e</tspan></text>
<text x="888.2" y="375.0" fill="#1cf0ec" stroke="#1cf0ec" stroke-width="0.25" textLength="112.6" lengthAdjust="spacingAndGlyphs"><tspan font-size="27.6">M</tspan><tspan font-size="25.12">e</tspan><tspan font-size="25.12">s</tspan><tspan font-size="25.12">s</tspan><tspan font-size="25.12">a</tspan><tspan font-size="25.12">g</tspan><tspan font-size="25.12">e</tspan></text>
<text x="282.8" y="366.2" fill="#f68dbb" stroke="#f68dbb" stroke-width="0.25" textLength="89.0" lengthAdjust="spacingAndGlyphs"><tspan font-size="28.2">S</tspan><tspan font-size="25.66">e</tspan><tspan font-size="25.66">c</tspan><tspan font-size="25.66">u</tspan><tspan font-size="25.66">r</tspan><tspan font-size="25.66">e</tspan></text>
<text x="270.3" y="400.6" fill="#f68dbb" stroke="#f68dbb" stroke-width="0.25" textLength="112.5" lengthAdjust="spacingAndGlyphs"><tspan font-size="27.6">M</tspan><tspan font-size="25.12">e</tspan><tspan font-size="25.12">s</tspan><tspan font-size="25.12">s</tspan><tspan font-size="25.12">a</tspan><tspan font-size="25.12">g</tspan><tspan font-size="25.12">e</tspan></text>
<text x="648.0" y="366.2" fill="#f68dbb" stroke="#f68dbb" stroke-width="0.25" textLength="88.0" lengthAdjust="spacingAndGlyphs"><tspan font-size="28.2">S</tspan><tspan font-size="25.66">e</tspan><tspan font-size="25.66">c</tspan><tspan font-size="25.66">u</tspan><tspan font-size="25.66">r</tspan><tspan font-size="25.66">e</tspan></text>
<text x="633.9" y="400.6" fill="#f68dbb" stroke="#f68dbb" stroke-width="0.25" textLength="111.5" lengthAdjust="spacingAndGlyphs"><tspan font-size="27.6">M</tspan><tspan font-size="25.12">e</tspan><tspan font-size="25.12">s</tspan><tspan font-size="25.12">s</tspan><tspan font-size="25.12">a</tspan><tspan font-size="25.12">g</tspan><tspan font-size="25.12">e</tspan></text>
<text x="130.0" y="430.5" fill="#f21ef2" stroke="#f21ef2" stroke-width="0.25" textLength="136.4" lengthAdjust="spacingAndGlyphs"><tspan font-size="29.0">S</tspan><tspan font-size="24.07">e</tspan><tspan font-size="24.07">c</tspan><tspan font-size="24.07">r</tspan><tspan font-size="24.07">e</tspan><tspan font-size="24.07">t</tspan><tspan font-size="24.07"> </tspan><tspan font-size="24.07">i</tspan><tspan font-size="24.07">n</tspan><tspan font-size="24.07">f</tspan><tspan font-size="24.07">o</tspan></text>
<text x="756.7" y="430.3" fill="#f21ef2" stroke="#f21ef2" stroke-width="0.25" textLength="138.9" lengthAdjust="spacingAndGlyphs"><tspan font-size="29.0">S</tspan><tspan font-size="24.07">e</tspan><tspan font-size="24.07">c</tspan><tspan font-size="24.07">r</tspan><tspan font-size="24.07">e</tspan><tspan font-size="24.07">t</tspan><tspan font-size="24.07"> </tspan><tspan font-size="24.07">i</tspan><tspan font-size="24.07">n</tspan><tspan font-size="24.07">f</tspan><tspan font-size="24.07">o</tspan></text>
<text x="422.6" y="148.0" fill="#19f51c" stroke="#19f51c" stroke-width="0.25" textLength="171.0" lengthAdjust="spacingAndGlyphs"><tspan font-size="30.0">T</tspan><tspan font-size="24.90">r</tspan><tspan font-size="24.90">u</tspan><tspan font-size="24.90">s</tspan><tspan font-size="24.90">t</tspan><tspan font-size="24.90">e</tspan><tspan font-size="24.90">d</tspan><tspan font-size="24.90"> </tspan><tspan font-size="30.0">T</tspan><tspan font-size="24.90">h</tspan><tspan font-size="24.90">i</tspan><tspan font-size="24.90">r</tspan><tspan font-size="24.90">d</tspan></text>
<text x="473.7" y="182.2" fill="#19f51c" stroke="#19f51c" stroke-width="0.25" textLength="67.8" lengthAdjust="spacingAndGlyphs"><tspan font-size="30.0">P</tspan><tspan font-size="24.90">a</tspan><tspan font-size="24.90">r</tspan><tspan font-size="24.90">t</tspan><tspan font-size="24.90">y</tspan></text>
<text x="441.6" y="432.5" fill="#19f51c" stroke="#19f51c" stroke-width="0.25" textLength="130.2" lengthAdjust="spacingAndGlyphs"><tspan font-size="29.5">O</tspan><tspan font-size="24.48">p</tspan><tspan font-size="24.48">p</tspan><tspan font-size="24.48">o</tspan><tspan font-size="24.48">n</tspan><tspan font-size="24.48">e</tspan><tspan font-size="24.48">n</tspan><tspan font-size="24.48">t</tspan></text>
<text x="66.7" y="244.3" fill="#1cf0ec" stroke="#1cf0ec" stroke-width="0.25" textLength="16.3" lengthAdjust="spacingAndGlyphs"><tspan font-size="29.5">S</tspan></text>
<text x="926.8" y="244.8" fill="#1cf0ec" stroke="#1cf0ec" stroke-width="0.25" textLength="18.0" lengthAdjust="spacingAndGlyphs"><tspan font-size="29.5">R</tspan></text>
<path d="M50.4,484.3 L234.7,484.3 L184,581 L0,581 L0,581 Z" fill="#fcc51c"/>
<text x="66.6" y="566" font-size="100" fill="#051a16" font-weight="bold" text-anchor="start" textLength="110.1" lengthAdjust="spacingAndGlyphs" stroke="#051a16" stroke-width="3" stroke-linejoin="round">07</text>
<path d="M231,498.5 L799.6,498.5 L755,578.3 L188,578.3 Z" fill="#020606"/>
<path d="M236,502.7 L792.8,502.7 L751.2,573.2 L194.3,573.2 Z" fill="#8ff3f4"/>
<text x="239.49999999999997" y="555.5" font-size="66.5" fill="#0b0b0b" font-weight="bold" text-anchor="start" textLength="249.19999999999993" lengthAdjust="spacingAndGlyphs" stroke="#0b0b0b" stroke-width="1.4" stroke-linejoin="round">Network</text>
<text x="506.4000000000001" y="555.5" font-size="66.5" fill="#0b0b0b" font-weight="bold" text-anchor="start" textLength="239.79999999999973" lengthAdjust="spacingAndGlyphs" stroke="#0b0b0b" stroke-width="1.4" stroke-linejoin="round">Security</text>
</svg></body></html>
